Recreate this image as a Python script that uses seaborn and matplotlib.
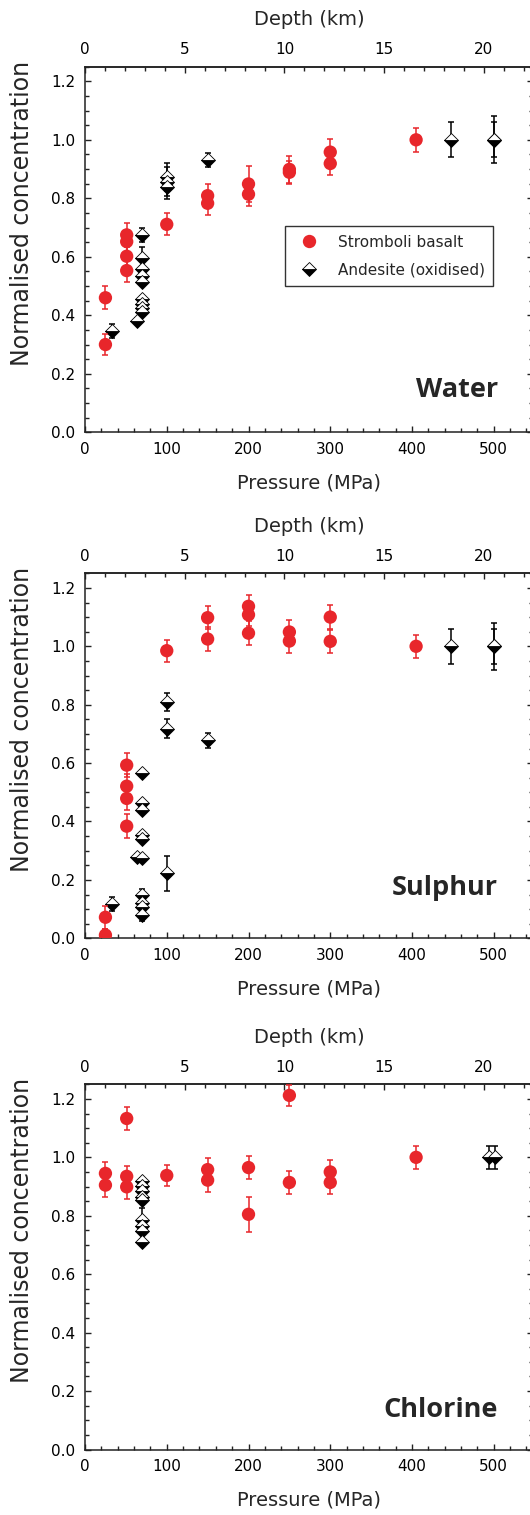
import matplotlib
matplotlib.use("Agg")
import matplotlib.pyplot as plt
import seaborn as sns
from matplotlib.ticker import MultipleLocator, FixedLocator
from matplotlib.lines import Line2D

# Water
water_basalt_p = [25, 25, 51, 51, 51, 51, 100, 150, 150, 200, 200, 250, 250, 300, 300, 405]
water_basalt_c = [0.46, 0.30, 0.675, 0.652, 0.602, 0.553, 0.711, 0.809, 0.783, 0.849, 0.814, 0.899, 0.889, 0.958, 0.919, 1.0]
water_basalt_err = [0.04, 0.037, 0.04, 0.04, 0.04, 0.04, 0.038, 0.04, 0.04, 0.06, 0.04, 0.045, 0.04, 0.044, 0.039, 0.04]
water_andes_p = [33, 64, 70, 70, 70, 70, 70, 70, 70, 70, 70, 100, 100, 100, 150, 448, 500, 500]
water_andes_c = [0.346, 0.38, 0.675, 0.595, 0.56, 0.535, 0.515, 0.455, 0.44, 0.425, 0.41, 0.872, 0.857, 0.840, 0.931, 1.0, 1.0, 1.0]
water_andes_err = [0.025, 0.01, 0.025, 0.04, 0.01, 0.01, 0.01, 0.01, 0.01, 0.01, 0.01, 0.048, 0.05, 0.043, 0.025, 0.06, 0.08, 0.06]

# Sulphur
sulphur_basalt_p = [25, 25, 51, 51, 51, 51, 100, 150, 150, 200, 200, 200, 250, 250, 300, 300, 405]
sulphur_basalt_c = [0.072, 0.011, 0.593, 0.521, 0.479, 0.384, 0.985, 1.098, 1.025, 1.137, 1.108, 1.045, 1.049, 1.018, 1.100, 1.017, 1.0]
sulphur_basalt_err = [0.04, 0.02, 0.04, 0.04, 0.04, 0.04, 0.038, 0.04, 0.04, 0.04, 0.04, 0.04, 0.04, 0.04, 0.04, 0.04, 0.04]
sulphur_andes_p = [33, 64, 70, 70, 70, 70, 70, 70, 70, 70, 70, 70, 100, 100, 100, 150, 448, 500, 500]
sulphur_andes_c = [0.117, 0.277, 0.566, 0.462, 0.439, 0.353, 0.339, 0.274, 0.148, 0.122, 0.108, 0.080, 0.809, 0.718, 0.222, 0.678, 1.0, 1.0, 1.0]
sulphur_andes_err = [0.025, 0.01, 0.01, 0.01, 0.01, 0.01, 0.01, 0.01, 0.02, 0.01, 0.01, 0.02, 0.03, 0.033, 0.06, 0.025, 0.06, 0.08, 0.06]

# Chlorine
chlorine_basalt_p = [25, 25, 51, 51, 51, 100, 150, 150, 200, 200, 250, 250, 300, 300, 405]
chlorine_basalt_c = [0.945, 0.905, 1.133, 0.935, 0.899, 0.938, 0.958, 0.922, 0.965, 0.805, 1.212, 0.914, 0.950, 0.914, 1.0]
chlorine_basalt_err = [0.04, 0.04, 0.04, 0.035, 0.04, 0.035, 0.04, 0.04, 0.04, 0.06, 0.035, 0.04, 0.04, 0.04, 0.04]
chlorine_andes_p = [70, 70, 70, 70, 70, 70, 70, 70, 70, 494, 502]
chlorine_andes_c = [0.919, 0.901, 0.885, 0.864, 0.855, 0.785, 0.764, 0.747, 0.710, 1.0, 1.0]
chlorine_andes_err = [0.01, 0.01, 0.01, 0.01, 0.01, 0.04, 0.01, 0.01, 0.01, 0.04, 0.04]

panel_names = ["Water", "Sulphur", "Chlorine"]
depth_ticks = [0, 5, 10, 15, 20]
RED = "#e8262b"
MPA_PER_KM = 24.4

sns.set_theme(style="ticks")
plt.rcParams["font.family"] = ["DejaVu Sans"]
plt.rcParams["axes.linewidth"] = 1.1
plt.rcParams["axes.edgecolor"] = "#222222"

fig = plt.figure(figsize=(5.3, 15.15), dpi=100)
W, H = 530, 1515

# pixel boxes (top, bottom) for the three panels
boxes = [(66.7, 432.3), (573.3, 938.3), (1084.3, 1449.5)]
label_y = [0.116, 0.138, 0.108]

data = [
    (water_basalt_p, water_basalt_c, water_basalt_err, water_andes_p, water_andes_c, water_andes_err),
    (sulphur_basalt_p, sulphur_basalt_c, sulphur_basalt_err, sulphur_andes_p, sulphur_andes_c, sulphur_andes_err),
    (chlorine_basalt_p, chlorine_basalt_c, chlorine_basalt_err, chlorine_andes_p, chlorine_andes_c, chlorine_andes_err),
]

diamond = dict(linestyle="none", marker="D", ms=7.4, fillstyle="bottom",
               markerfacecolor="black", markerfacecoloralt="white",
               markeredgecolor="black", markeredgewidth=0.6)

for i, (top, bot) in enumerate(boxes):
    ax = fig.add_axes([85 / W, (H - bot) / H, 448 / W, (bot - top) / H])
    bp, bc, be, ap, ac, ae = data[i]

    # andesite: half filled diamonds
    ax.errorbar(ap, ac, yerr=ae, fmt="none", ecolor="black", elinewidth=1.1,
                capsize=2.5, capthick=1.1, zorder=2)
    ax.plot(ap, ac, zorder=3, **diamond)

    # Stromboli basalt
    ax.errorbar(bp, bc, yerr=be, fmt="none", ecolor=RED, elinewidth=1.1,
                capsize=2.5, capthick=1.1, zorder=4)
    sns.scatterplot(x=bp, y=bc, color=RED, s=92, edgecolor="none", zorder=5, ax=ax)

    ax.set_xlim(0, 548)
    ax.set_ylim(0, 1.25)
    ax.xaxis.set_major_locator(MultipleLocator(100))
    ax.xaxis.set_minor_locator(MultipleLocator(20))
    ax.yaxis.set_major_locator(MultipleLocator(0.2))
    ax.yaxis.set_minor_locator(MultipleLocator(0.05))
    ax.yaxis.set_major_formatter(lambda v, pos: f"{v:.1f}")
    ax.tick_params(which="both", direction="in", top=False, right=True,
                   labelsize=11, width=1, colors="#222222", labelcolor="black")
    ax.tick_params(which="major", length=4.5, pad=7)
    ax.tick_params(which="minor", length=3)
    ax.set_xlabel("Pressure (MPa)", fontsize=14, labelpad=12)
    ax.set_ylabel("Normalised concentration", fontsize=17)
    ax.yaxis.set_label_coords(-0.114, 0.60)

    sec = ax.secondary_xaxis("top", functions=(lambda p: p / MPA_PER_KM, lambda d: d * MPA_PER_KM))
    sec.xaxis.set_major_locator(FixedLocator(depth_ticks))
    sec.xaxis.set_minor_locator(FixedLocator(range(0, 23)))
    sec.tick_params(which="both", direction="in", labelsize=11, width=1, colors="#222222", labelcolor="black")
    sec.tick_params(which="major", length=4.5, pad=7)
    sec.tick_params(which="minor", length=3)
    sec.set_xlabel("Depth (km)", fontsize=14, labelpad=12)

    ax.text(0.922, label_y[i], panel_names[i], transform=ax.transAxes,
            ha="right", va="center", fontsize=19.5, fontweight="bold",
            family=["Open Sans", "DejaVu Sans"])

    if i == 0:
        handles = [
            Line2D([], [], linestyle="none", marker="o", ms=9.6, color=RED, markeredgecolor="none"),
            Line2D([], [], **diamond),
        ]
        leg = ax.legend(handles, ["Stromboli basalt", "Andesite (oxidised)"],
                        loc="upper left", bbox_to_anchor=(0.447, 0.564), borderaxespad=0,
                        fontsize=11, frameon=True, fancybox=False, edgecolor="black",
                        labelspacing=0.85, handletextpad=0.9, borderpad=0.55)
        leg.get_frame().set_linewidth(1.0)

fig.savefig("out.png", dpi=100)
